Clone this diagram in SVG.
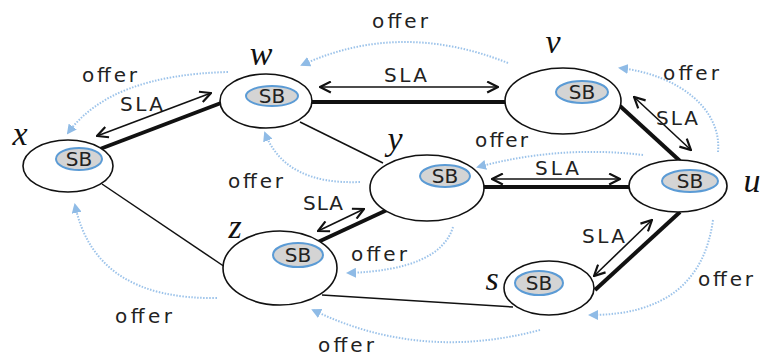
<svg xmlns="http://www.w3.org/2000/svg" width="760" height="358" viewBox="0 0 760 358">
<defs>
<marker id="oa" viewBox="0 0 10 10" refX="8" refY="5" markerWidth="10" markerHeight="10" markerUnits="userSpaceOnUse" orient="auto">
<path d="M0,0 L10,5 L0,10 z" fill="#8fbbe6"/>
</marker>
<marker id="sa" viewBox="0 0 12 12" refX="11" refY="6" markerWidth="13" markerHeight="13" markerUnits="userSpaceOnUse" orient="auto-start-reverse">
<path d="M1,1 L11,6 L1,11" fill="none" stroke="#111" stroke-width="2"/>
</marker>
</defs>
<style>
.outer{fill:#fff;stroke:#111;stroke-width:1.6}
.inner{fill:#d4d4d4;stroke:#5b9bd5;stroke-width:2}
.sb{font-family:"DejaVu Sans",sans-serif;font-size:20px;fill:#222;text-anchor:middle}
.lbl{font-family:"Liberation Serif",serif;font-style:italic;font-size:34px;fill:#111;text-anchor:middle}
.t{font-family:"DejaVu Sans",sans-serif;font-size:20px;fill:#222}
.thick{stroke:#111;stroke-width:4;fill:none}
.thin{stroke:#111;stroke-width:1.5;fill:none}
.sla{stroke:#111;stroke-width:1.6;fill:none;marker-start:url(#sa);marker-end:url(#sa)}
.off{stroke:#9cc3ea;stroke-width:2;stroke-dasharray:1.5 1.5;fill:none;marker-end:url(#oa)}
</style>
<rect width="760" height="358" fill="#fff"/>
<g id="connectors">
<line class="thin" x1="300" y1="122" x2="383" y2="163"/>
<line class="thin" x1="102" y1="184" x2="225" y2="267"/>
<line class="thin" x1="322" y1="295" x2="513" y2="307"/>
<line class="thick" x1="100" y1="149" x2="221" y2="103"/>
<line class="thick" x1="312" y1="102" x2="505" y2="102"/>
<line class="thick" x1="620" y1="106" x2="680" y2="161"/>
<line class="thick" x1="483" y1="187" x2="630" y2="187"/>
<line class="thick" x1="387" y1="210" x2="318" y2="242"/>
<line class="thick" x1="680" y1="212" x2="595" y2="290"/>
<line class="sla" x1="97" y1="136" x2="211" y2="93"/>
<line class="sla" x1="320" y1="87" x2="498" y2="87"/>
<line class="sla" x1="634" y1="97" x2="691" y2="150"/>
<line class="sla" x1="492" y1="179" x2="620" y2="179"/>
<line class="sla" x1="364" y1="209" x2="318" y2="231"/>
<line class="sla" x1="652" y1="220" x2="594" y2="276"/>
<path class="off" d="M508,63 Q400,20 302,65"/>
<path class="off" d="M228,72 Q110,75 68,133"/>
<path class="off" d="M360,182 Q285,185 265,133"/>
<path class="off" d="M718,152 C722,110 680,75 620,68"/>
<path class="off" d="M643,155 Q560,145 478,167"/>
<path class="off" d="M453,227 Q440,270 348,273"/>
<path class="off" d="M713,220 Q700,315 590,315"/>
<path class="off" d="M540,330 Q420,362 313,310"/>
<path class="off" d="M217,298 Q95,300 75,205"/>
<text class="t" x="120" y="111" textLength="43" lengthAdjust="spacing">SLA</text>
<text class="t" x="384" y="82" textLength="43" lengthAdjust="spacing">SLA</text>
<text class="t" x="656" y="125" textLength="42" lengthAdjust="spacing">SLA</text>
<text class="t" x="535" y="175" textLength="44" lengthAdjust="spacing">SLA</text>
<text class="t" x="303" y="210" textLength="40" lengthAdjust="spacing">SLA</text>
<text class="t" x="582" y="243" textLength="43" lengthAdjust="spacing">SLA</text>
<text class="t" x="372" y="28" textLength="56" lengthAdjust="spacing">offer</text>
<text class="t" x="82" y="82" textLength="55" lengthAdjust="spacing">offer</text>
<text class="t" x="228" y="188" textLength="55" lengthAdjust="spacing">offer</text>
<text class="t" x="663" y="80" textLength="56" lengthAdjust="spacing">offer</text>
<text class="t" x="475" y="147" textLength="53" lengthAdjust="spacing">offer</text>
<text class="t" x="351" y="261" textLength="56" lengthAdjust="spacing">offer</text>
<text class="t" x="698" y="286" textLength="55" lengthAdjust="spacing">offer</text>
<text class="t" x="318" y="352" textLength="56" lengthAdjust="spacing">offer</text>
<text class="t" x="115" y="323" textLength="57" lengthAdjust="spacing">offer</text>
</g>
<g id="node-x">
<ellipse class="outer" cx="68" cy="166" rx="45" ry="26"/>
<ellipse class="inner" cx="79" cy="159" rx="23" ry="11"/>
<text class="sb" x="79" y="166">SB</text>
<text class="lbl" x="20" y="145">x</text>
</g>
<g id="node-w">
<ellipse class="outer" cx="266" cy="101" rx="46" ry="27"/>
<ellipse class="inner" cx="272" cy="96" rx="26" ry="10"/>
<text class="sb" x="272" y="103">SB</text>
<text class="lbl" x="261" y="65">w</text>
</g>
<g id="node-v">
<ellipse class="outer" cx="563" cy="101" rx="58" ry="33"/>
<ellipse class="inner" cx="582" cy="92" rx="26" ry="11"/>
<text class="sb" x="582" y="99">SB</text>
<text class="lbl" x="553" y="53">v</text>
</g>
<g id="node-y">
<ellipse class="outer" cx="427" cy="188" rx="57" ry="33"/>
<ellipse class="inner" cx="445" cy="176" rx="25" ry="11"/>
<text class="sb" x="445" y="183">SB</text>
<text class="lbl" x="395" y="150">y</text>
</g>
<g id="node-u">
<ellipse class="outer" cx="678" cy="186" rx="49" ry="26"/>
<ellipse class="inner" cx="690" cy="181" rx="28" ry="11"/>
<text class="sb" x="690" y="188">SB</text>
<text class="lbl" x="752" y="192">u</text>
</g>
<g id="node-z">
<ellipse class="outer" cx="280" cy="268" rx="57" ry="37"/>
<ellipse class="inner" cx="298" cy="255" rx="25" ry="12"/>
<text class="sb" x="298" y="262">SB</text>
<text class="lbl" x="235" y="238">z</text>
</g>
<g id="node-s">
<ellipse class="outer" cx="549" cy="288" rx="45" ry="27"/>
<ellipse class="inner" cx="539" cy="283" rx="24" ry="12"/>
<text class="sb" x="539" y="290">SB</text>
<text class="lbl" x="492" y="290">s</text>
</g>
</svg>
